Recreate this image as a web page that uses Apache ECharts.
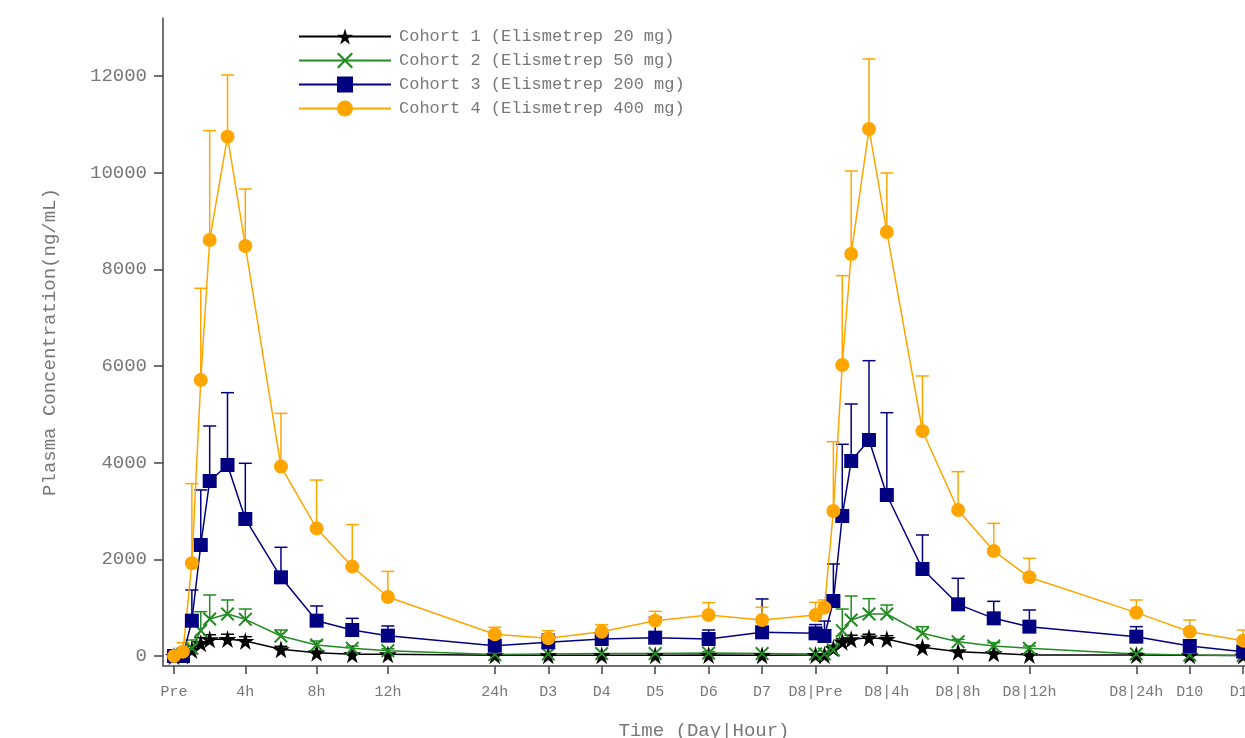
<!DOCTYPE html>
<html>
<head>
<meta charset="utf-8">
<script src="https://cdn.jsdelivr.net/npm/echarts@6/dist/echarts.min.js"></script>
<style>
  html, body { margin: 0; padding: 0; background: #fff; }
  #chart { width: 1245px; height: 738px; }
</style>
</head>
<body>
<div id="chart"></div>
<script>
  // x position of each sample (hours to 12h, then a compressed day scale)
  const timePos = [0, 0.5, 1, 1.5, 2, 3, 4, 6, 8, 10, 12, 18, 21, 24, 27, 30, 33, 36,
    36.5, 37, 37.5, 38, 39, 40, 42, 44, 46, 48, 54, 57, 60]
  const tickPos = [0, 4, 8, 12, 18, 21, 24, 27, 30, 33, 36, 40, 44, 48, 54, 57, 60]
  const tickLabels = ['Pre', '4h', '8h', '12h', '24h', 'D3', 'D4', 'D5', 'D6', 'D7',
    'D8|Pre', 'D8|4h', 'D8|8h', 'D8|12h', 'D8|24h', 'D10', 'D11']
  const yTicks = [0, 2000, 4000, 6000, 8000, 10000, 12000]

  const names = ['Cohort 1 (Elismetrep 20 mg)', 'Cohort 2 (Elismetrep 50 mg)',
    'Cohort 3 (Elismetrep 200 mg)', 'Cohort 4 (Elismetrep 400 mg)']

  // mean values
  const cohort1 = [0, 10, 124, 262, 345, 352, 310, 138, 69, 34, 34, 15, 15, 15, 15, 20, 15, 20,
    20, 159, 296, 345, 379, 352, 179, 90, 55, 20, 20, 15, 10]
  const cohort2 = [0, 40, 160, 524, 765, 869, 759, 414, 228, 159, 110, 30, 40, 50, 50, 60, 50, 40,
    40, 124, 524, 745, 869, 869, 469, 296, 207, 159, 41, 20, 10]
  const cohort3 = [0, 0, 731, 2297, 3621, 3952, 2835, 1628, 731, 538, 421, 213, 283, 352, 379, 352, 490, 469,
    414, 1138, 2897, 4035, 4469, 3331, 1800, 1069, 779, 607, 400, 207, 90]
  const cohort4 = [0, 90, 1920, 5711, 8607, 10745, 8483, 3920, 2640, 1850, 1220, 449, 366, 503, 731, 848, 745, 848,
    1000, 3000, 6021, 8318, 10904, 8773, 4655, 3021, 2173, 1628, 897, 503, 317]

  // upper end of the error bars (mean + SD)
  const cohort1Up = [0, 20, 200, 380, 440, 450, 400, 200, 100, 60, 50, 25, 25, 25, 25, 30, 25, 30,
    30, 220, 360, 430, 450, 420, 230, 120, 80, 40, 30, 25, 20]
  const cohort2Up = [0, 60, 331, 917, 1262, 1159, 972, 538, 310, 207, 150, 50, 60, 70, 70, 90, 70, 60,
    60, 200, 972, 1241, 1186, 1055, 607, 345, 276, 207, 70, 35, 20]
  const cohort3Up = [0, 0, 1366, 3435, 4759, 5448, 3987, 2249, 1035, 779, 621, 290, 455, 538, 800, 538, 1180, 650,
    724, 1904, 4380, 5214, 6110, 5034, 2504, 1607, 1131, 952, 607, 317, 150]
  const cohort4Up = [0, 275, 3566, 7608, 10870, 12021, 9663, 5020, 3640, 2720, 1750, 594, 524, 648, 924, 1103, 1007, 1110,
    1159, 4434, 7870, 10035, 12352, 9994, 5793, 3814, 2745, 2021, 1159, 745, 538]

  const colors = ['#000000', '#228B22', '#000080', '#FFA500']
  const starPath = 'path://M50,0 L61,35 L98,35 L68,57 L79,91 L50,70 L21,91 L32,57 L2,35 L39,35 Z'
  const xPath = 'path://M0,1 L1,0 L5,4 L9,0 L10,1 L6,5 L10,9 L9,10 L5,6 L1,10 L0,9 L4,5 Z'
  const symbols = [starPath, xPath, 'rect', 'circle']
  const symbolSizes = [18, 14, 14, 14]
  const means = [cohort1, cohort2, cohort3, cohort4]
  const uppers = [cohort1Up, cohort2Up, cohort3Up, cohort4Up]

  const font = "'Liberation Mono', monospace"
  const textGray = '#777'
  const axisColor = '#444'

  const series = []
  means.forEach((vals, i) => {
    series.push({
      name: 'err' + i,
      type: 'custom',
      data: timePos.map((t, k) => [t, vals[k], uppers[i][k]]),
      encode: { x: 0, y: [1, 2] },
      renderItem: function (params, api) {
        const p0 = api.coord([api.value(0), api.value(1)])
        const p1 = api.coord([api.value(0), api.value(2)])
        if (p0[1] - p1[1] < 1) return null
        return {
          type: 'group',
          children: [
            { type: 'line', shape: { x1: p0[0], y1: p0[1], x2: p1[0], y2: p1[1] },
              style: { stroke: colors[i], lineWidth: 1.5 } },
            { type: 'line', shape: { x1: p1[0] - 6.5, y1: p1[1], x2: p1[0] + 6.5, y2: p1[1] },
              style: { stroke: colors[i], lineWidth: 1.5 } },
          ],
        }
      },
    })
    series.push({
      name: names[i],
      type: 'line',
      data: timePos.map((t, k) => [t, vals[k]]),
      symbol: symbols[i],
      symbolSize: symbolSizes[i],
      showAllSymbol: true,
      itemStyle: { color: colors[i] },
      lineStyle: { color: colors[i], width: 1.5 },
      emphasis: { disabled: true },
    })
  })

  const myChart = echarts.init(document.getElementById('chart'))
  const option = {
    backgroundColor: '#fff',
    animation: false,
    grid: { left: 163, right: 0, top: 18, bottom: 72, outerBoundsMode: 'none', containLabel: false },
    legend: {
      data: names,
      orient: 'vertical',
      left: 298,
      top: 28,
      padding: 0,
      itemWidth: 92,
      itemHeight: 20,
      itemGap: 7,
      textStyle: { fontFamily: font, fontSize: 17, color: textGray, padding: [0, 0, 0, 3] },
    },
    xAxis: {
      type: 'value',
      min: -0.62,
      max: 60.1,
      name: 'Time (Day|Hour)',
      nameLocation: 'middle',
      nameGap: 55,
      nameTextStyle: { fontFamily: font, fontSize: 19, color: textGray },
      axisLine: { onZero: false, lineStyle: { color: axisColor, width: 1.5 } },
      axisTick: { show: true, length: 8, customValues: tickPos, lineStyle: { color: axisColor, width: 1.5 } },
      axisLabel: {
        customValues: tickPos,
        margin: 19,
        fontFamily: font,
        fontSize: 15,
        color: textGray,
        formatter: v => tickLabels[tickPos.indexOf(v)] || '',
      },
      splitLine: { show: false },
    },
    yAxis: {
      type: 'value',
      min: -207,
      max: 13200,
      name: 'Plasma Concentration(ng/mL)',
      nameLocation: 'middle',
      nameGap: 104,
      nameTextStyle: { fontFamily: font, fontSize: 19, color: textGray },
      axisLine: { show: true, onZero: false, lineStyle: { color: axisColor, width: 1.5 } },
      axisTick: { show: true, length: 9, customValues: yTicks, lineStyle: { color: axisColor, width: 1.5 } },
      axisLabel: {
        customValues: yTicks,
        margin: 16,
        fontFamily: font,
        fontSize: 19,
        color: textGray,
        formatter: v => String(v),
      },
      splitLine: { show: false },
    },
    series: series,
  }
  option && myChart.setOption(option)
</script>
</body>
</html>
